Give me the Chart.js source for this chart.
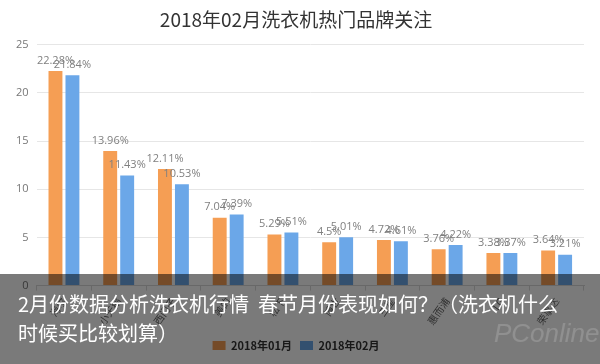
<!DOCTYPE html>
<html>
<head>
<meta charset="utf-8">
<script src="https://cdn.jsdelivr.net/npm/chart.js@4"></script>
<style>
  html, body { margin: 0; padding: 0; background: #fff; }
  #wrap { position: relative; width: 600px; height: 364px; overflow: hidden; }
  #overlay {
    position: absolute; left: 0; top: 274px; width: 600px; height: 90px;
    background: rgba(0, 0, 0, 0.52);
  }
  #caption {
    position: absolute; left: 18px; top: 289px; width: 552px;
    color: #fff; font-family: "Noto Sans CJK SC", sans-serif; font-size: 20px;
    line-height: 29px;
  }
  #mark {
    position: absolute; left: 494px; top: 318px; color: rgba(255,255,255,0.16);
    font-family: "Liberation Sans", sans-serif; font-size: 26px; font-style: italic;
  }
</style>
</head>
<body>
<div id="wrap">
  <canvas id="chart" width="600" height="364"></canvas>
  <div id="overlay"></div>
  <div id="caption">2月份数据分析洗衣机行情&nbsp; 春节月份表现如何？（洗衣机什么时候买比较划算）</div>
  <div id="mark">PConline</div>
</div>
<script>
const brands = ["海尔", "小天鹅", "西门子", "美的", "松下", "博世", "三星", "惠而浦", "LG", "荣事达"];
const jan = [22.28, 13.96, 12.11, 7.04, 5.29, 4.5, 4.72, 3.76, 3.38, 3.64];
const feb = [21.84, 11.43, 10.53, 7.39, 5.51, 5.01, 4.61, 4.22, 3.37, 3.21];
const yTicks = [0, 5, 10, 15, 20, 25];

// percent labels above each bar
const barLabels = {
  id: "barLabels",
  afterDatasetsDraw(chart) {
    const ctx = chart.ctx;
    ctx.save();
    ctx.font = "11px 'Open Sans', sans-serif";
    ctx.fillStyle = "#808080";
    ctx.textAlign = "center";
    ctx.textBaseline = "bottom";
    chart.data.datasets.forEach((ds, i) => {
      chart.getDatasetMeta(i).data.forEach((bar, j) => {
        ctx.fillText(ds.data[j] + "%", bar.x, bar.y - 5);
      });
    });
    ctx.restore();
  }
};

new Chart(document.getElementById("chart"), {
  type: "bar",
  data: {
    labels: brands,
    datasets: [
      { label: "2018年01月", data: jan, backgroundColor: "#F59E54" },
      { label: "2018年02月", data: feb, backgroundColor: "#6BA7E8" }
    ]
  },
  options: {
    responsive: false,
    animation: false,
    layout: { padding: { left: 8, right: 16, top: 0, bottom: 3 } },
    datasets: { bar: { categoryPercentage: 0.62, barPercentage: 0.82 } },
    plugins: {
      title: {
        display: true,
        text: "2018年02月洗衣机热门品牌关注",
        color: "#333",
        font: { size: 19, family: "'Noto Sans CJK SC', sans-serif", weight: "normal" },
        padding: { top: 8, bottom: 14 }
      },
      legend: {
        position: "bottom",
        labels: {
          boxWidth: 13, boxHeight: 9, padding: 8,
          color: "#333",
          font: { size: 11, family: "'Noto Sans CJK SC', sans-serif", weight: "bold" }
        }
      },
      tooltip: { enabled: false }
    },
    scales: {
      x: {
        grid: { display: true, drawOnChartArea: false, offset: true, color: "#d9d9d9", tickLength: 5 },
        border: { color: "#d9d9d9" },
        ticks: {
          color: "#666", minRotation: 55, maxRotation: 55, padding: 5,
          font: { size: 10, family: "'Noto Sans CJK SC', sans-serif" }
        }
      },
      y: {
        min: 0, max: 25,
        afterBuildTicks: (axis) => { axis.ticks = yTicks.map(v => ({ value: v })); },
        grid: { color: "#e6e6e6", drawTicks: false },
        border: { display: false },
        ticks: {
          color: "#777", padding: 8,
          font: { size: 11, family: "'Open Sans', sans-serif" }
        }
      }
    }
  },
  plugins: [barLabels]
});
</script>
</body>
</html>
